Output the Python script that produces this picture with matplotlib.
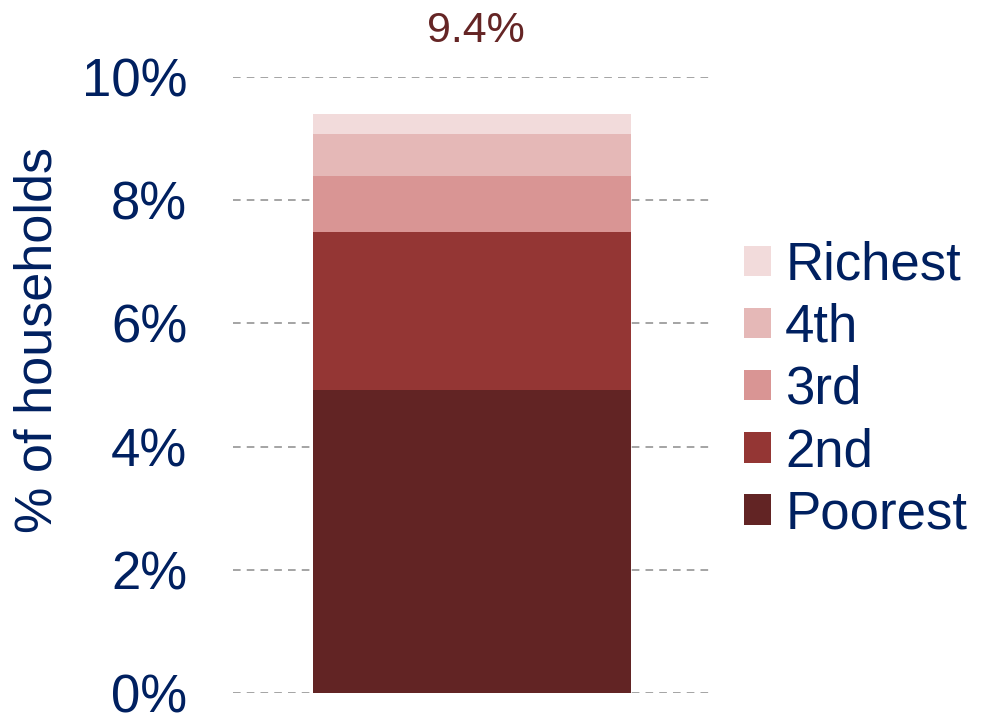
import matplotlib
matplotlib.use("Agg")
import matplotlib.pyplot as plt

plt.rcParams['font.family'] = ['Liberation Sans', 'DejaVu Sans']

# share of households by income quintile (stacked, bottom to top)
groups = ['Poorest', '2nd', '3rd', '4th', 'Richest']
values = [4.92, 2.56, 0.91, 0.68, 0.33]
colors = ['#622424', '#943634', '#D99594', '#E5B8B7', '#F2DBDB']
yticks = [0, 2, 4, 6, 8, 10]

navy = '#002060'

fig = plt.figure(figsize=(9.84, 7.15), dpi=100)
ax = fig.add_axes([233/984, 1 - 693/715, 478/984, 616/715])

bottom = 0
for g, v, c in zip(groups, values, colors):
    ax.bar(0, v, width=1.0, bottom=bottom, color=c, label=g, zorder=2)
    bottom += v
total = bottom

ax.set_xlim(-0.75, 0.75)
ax.set_ylim(0, 10)
ax.set_xticks([])
ax.set_yticks(yticks)
ax.set_yticklabels([f"{t}%" for t in yticks], fontsize=38, color=navy)
ax.tick_params(axis='y', length=0, pad=33)
ax.yaxis.grid(True, color='#8c8c8c', linestyle=(0, (5, 4)), linewidth=1.1, zorder=0)
ax.set_axisbelow(True)
for s in ax.spines.values():
    s.set_visible(False)

ax.set_ylabel('% of households', fontsize=37.5, color=navy, va='center')
ax.yaxis.set_label_coords((38 - 233) / 478, (693 - 340) / 616)

ax.annotate(f"{total:.1f}%", xy=(0, total), xytext=(3, 60), textcoords='offset points',
            ha='center', va='center', fontsize=31, color='#652525', annotation_clip=False)

h, l = ax.get_legend_handles_labels()
fig.legend(h[::-1], l[::-1], loc='center left', bbox_to_anchor=(744/984, 1 - 390/715),
           frameon=False, fontsize=38, labelcolor=navy, handlelength=0.51, handleheight=0.51,
           handletextpad=0.27, labelspacing=0.23, borderpad=0, borderaxespad=0)

fig.savefig('out.png', dpi=100)
